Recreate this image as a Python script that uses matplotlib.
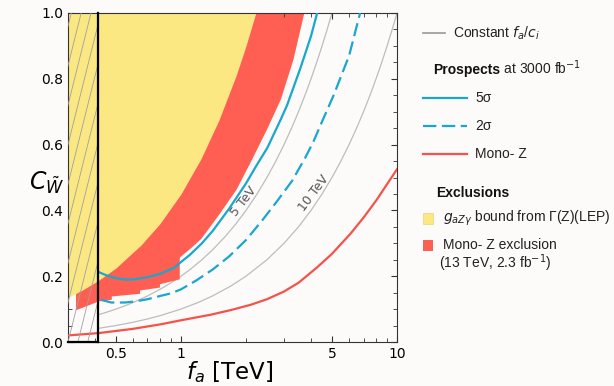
import matplotlib

matplotlib.use("Agg")
import matplotlib.pyplot as plt
import numpy as np
from matplotlib.lines import Line2D
from matplotlib.patches import Rectangle
from matplotlib.ticker import FixedLocator, MultipleLocator, NullFormatter

# ---- data (f_a in TeV, C_W) ----
# g_aZgamma (LEP) exclusion: everything above this boundary
yellow_f = [0.3, 0.35, 0.415, 0.5, 0.654, 0.8, 1.0, 1.236, 1.5, 1.8, 2.0, 2.22]
yellow_c = [0.135, 0.158, 0.187, 0.225, 0.295, 0.36, 0.45, 0.556, 0.675, 0.81, 0.9, 1.0]

# mono-Z exclusion (13 TeV, 2.3 fb-1): everything above this (stepped) boundary
monoz_f = [0.325, 0.415, 0.476, 0.476, 0.643, 0.643, 0.795, 0.795, 0.982, 0.982,
           1.1, 1.236, 1.5, 1.8, 2.1, 2.5, 2.89, 3.3, 3.7]
monoz_c = [0.098, 0.125, 0.13, 0.14, 0.148, 0.158, 0.167, 0.177, 0.192, 0.258,
           0.285, 0.315, 0.39, 0.465, 0.55, 0.65, 0.74, 0.86, 1.0]

# prospects at 3000 fb-1
sig5_f = [0.415, 0.45, 0.5, 0.55, 0.6, 0.7, 0.8, 0.93, 1.0, 1.1, 1.25, 1.4, 1.67, 2.0,
          2.22, 2.51, 2.89, 3.1, 3.57, 4.0, 4.27]
sig5_c = [0.213, 0.203, 0.194, 0.19, 0.19, 0.197, 0.207, 0.226, 0.243, 0.265, 0.3,
          0.337, 0.405, 0.482, 0.533, 0.59, 0.675, 0.72, 0.832, 0.93, 1.0]
sig2_f = [0.428, 0.476, 0.55, 0.61, 0.7, 0.78, 0.9, 1.0, 1.17, 1.4, 1.67, 2.0, 2.38,
          2.8, 3.27, 3.76, 4.11, 4.5, 5.09, 6.0, 6.75]
sig2_c = [0.128, 0.12, 0.12, 0.123, 0.13, 0.138, 0.148, 0.16, 0.186, 0.22, 0.26, 0.31,
          0.37, 0.43, 0.49, 0.56, 0.61, 0.67, 0.75, 0.87, 1.0]
line_f = [0.3, 0.415, 0.6, 0.81, 1.0, 1.375, 1.7, 2.1, 2.5, 2.99, 3.5, 4.27, 5.0,
          6.07, 7.0, 8.05, 9.0, 10.0]
line_c = [0.02, 0.027, 0.04, 0.054, 0.066, 0.083, 0.097, 0.113, 0.13, 0.153, 0.18,
          0.227, 0.268, 0.328, 0.378, 0.432, 0.48, 0.525]

# constant f_a/c_i contours
tev5_f = [0.415, 0.45, 0.5, 0.55, 0.6, 0.7, 0.8, 0.9, 1.0, 1.1, 1.25, 1.4, 1.6, 1.8,
          2.0, 2.25, 2.5, 2.75, 3.0, 3.25, 3.5, 3.75, 4.0, 4.25, 4.5, 4.75, 5.0]
tev5_c = [0.083, 0.09, 0.1, 0.11, 0.12, 0.14, 0.16, 0.18, 0.2, 0.22, 0.25, 0.28, 0.32,
          0.36, 0.4, 0.45, 0.5, 0.55, 0.6, 0.65, 0.7, 0.75, 0.8, 0.85, 0.9, 0.95, 1.0]
tev10_f = [0.415, 0.5, 0.6, 0.7, 0.8, 1.0, 1.2, 1.4, 1.7, 2.0, 2.5, 3.0, 3.5, 4.0,
           4.5, 5.0, 5.5, 6.0, 6.5, 7.0, 7.5, 8.0, 8.5, 9.0, 9.5, 10.0]
tev10_c = [0.0415, 0.05, 0.06, 0.07, 0.08, 0.1, 0.12, 0.14, 0.17, 0.2, 0.25, 0.3, 0.35,
           0.4, 0.45, 0.5, 0.55, 0.6, 0.65, 0.7, 0.75, 0.8, 0.85, 0.9, 0.95, 1.0]

box_f = [0.3, 0.415]  # excluded low-f_a strip

YELLOW = "#fbe883"
RED_FILL = "#ff5e52"
BLUE = "#19a7ce"
RED_LINE = "#f4534a"
GRAY = "#bdbdbd"
BG = "#fdfafa"

fig = plt.figure(figsize=(6.14, 3.86), dpi=100, facecolor=BG)
ax = fig.add_axes([68 / 614, 44 / 386, 329 / 614, 329 / 386])
ax.set_facecolor(BG)
ax.set_xscale("log")

ax.fill_between(monoz_f, monoz_c, 1.0, color=RED_FILL, lw=0, zorder=1)
ax.fill_between(yellow_f, yellow_c, 1.0, color=YELLOW, lw=0, zorder=2)

ax.plot(tev5_f, tev5_c, color=GRAY, lw=0.9, zorder=0.5)
ax.plot(tev10_f, tev10_c, color=GRAY, lw=0.9, zorder=0.5)
ax.plot(sig5_f, sig5_c, color=BLUE, lw=1.6, zorder=3)
ax.plot(sig2_f, sig2_c, color=BLUE, lw=1.6, dashes=(6, 2.5), zorder=3)
ax.plot(line_f, line_c, color=RED_LINE, lw=1.6, zorder=3)

ax.text(1.96, 0.426, "5 TeV", rotation=52, fontsize=9, color="#555555",
        ha="center", va="center", zorder=4)
ax.text(4.11, 0.452, "10 TeV", rotation=53, fontsize=9, color="#555555",
        ha="center", va="center", zorder=4)

# hatched strip: thin diagonal lines clipped to the strip, thick right/bottom edge
box = Rectangle((box_f[0], 0), box_f[1] - box_f[0], 1.0, fill=False,
                edgecolor="none", zorder=4)
ax.add_patch(box)
for x0 in np.arange(-0.3, 0.1, 0.03):
    hl, = ax.plot([x0, x0 + 1 / 4.0], [0, 1], transform=ax.transAxes,
                  color="#a0a0a0", lw=0.6, zorder=4)
    hl.set_clip_path(box)
ax.plot([box_f[1], box_f[1]], [0, 1], color="black", lw=1.6, zorder=5,
        clip_on=False, solid_capstyle="projecting")
ax.plot(box_f, [0, 0], color="black", lw=1.6, zorder=5, clip_on=False,
        solid_capstyle="projecting")

ax.set_xlim(0.3, 10)
ax.set_ylim(0, 1)
ax.xaxis.set_major_locator(FixedLocator([0.5, 1, 5, 10]))
ax.set_xticklabels(["0.5", "1", "5", "10"])
ax.xaxis.set_minor_formatter(NullFormatter())
yt = [0.0, 0.2, 0.4, 0.6, 0.8, 1.0]
ax.yaxis.set_major_locator(FixedLocator(yt))
ax.set_yticklabels([f"{v:.1f}" for v in yt])
ax.yaxis.set_minor_locator(MultipleLocator(0.05))
ax.tick_params(which="both", direction="in", top=True, right=True,
               labelsize=10, color="#333333")
ax.tick_params(which="major", length=4)
ax.tick_params(which="minor", length=3)
for s in ax.spines.values():
    s.set_color("#333333")

ax.set_xlabel(r"$f_a$ [TeV]", fontsize=16.5)
ax.xaxis.set_label_coords(0.49, -0.091)
ax.xaxis.label.set_va("center")
ax.set_ylabel(r"$C_{\tilde{W}}$", fontsize=17, rotation=0, ha="center", va="center")
ax.yaxis.set_label_coords(-0.065, 0.483)

# ---- legend drawn in pixel coordinates ----
lax = fig.add_axes([0, 0, 1, 1], facecolor="none")
lax.set_xlim(0, 614)
lax.set_ylim(386, 0)
lax.axis("off")
LF = "Liberation Sans"
kw = dict(fontsize=10, family=LF, va="center", color="#222222")

lax.add_line(Line2D([423, 445], [33, 33], color="#999999", lw=1.2))
lax.text(453, 33, r"Constant $f_a$/$c_i$", **kw)

fig.canvas.draw()
r = fig.canvas.get_renderer()
t1 = lax.text(433, 74, "Prospects", fontsize=10, family=LF, weight="bold",
              va="baseline", color="#111111")
bb = t1.get_window_extent(r)
xe = lax.transData.inverted().transform((bb.x1, bb.y0))[0]
lax.text(xe, 74, r" at 3000 fb$^{-1}$", fontsize=10, family=LF, va="baseline",
         color="#222222")

lax.add_line(Line2D([423, 467], [98, 98], color=BLUE, lw=1.6))
lax.text(475, 98, "5σ", **kw)
lax.add_line(Line2D([423, 467], [126, 126], color=BLUE, lw=1.6, dashes=(6, 2.5),
                    dash_capstyle="butt"))
lax.text(475, 126, "2σ", **kw)
lax.add_line(Line2D([423, 467], [154, 154], color=RED_LINE, lw=1.6))
lax.text(475, 154, "Mono- Z", **kw)

lax.text(436, 193, "Exclusions", fontsize=10, family=LF, weight="bold",
         va="center", color="#111111")
lax.add_patch(Rectangle((423, 213), 10, 11, facecolor=YELLOW, edgecolor="#e8d77a",
                        lw=0.5))
lax.text(443, 218, r"$g_{aZ\gamma}$ bound from Γ(Z)(LEP)", **kw)
lax.add_patch(Rectangle((423, 240), 10, 11, facecolor=RED_FILL, edgecolor="none"))
lax.text(443, 245, "Mono- Z exclusion", **kw)
lax.text(439, 263, r"(13 TeV, 2.3 fb$^{-1}$)", **kw)

fig.savefig("out.png", dpi=100, facecolor=BG)
